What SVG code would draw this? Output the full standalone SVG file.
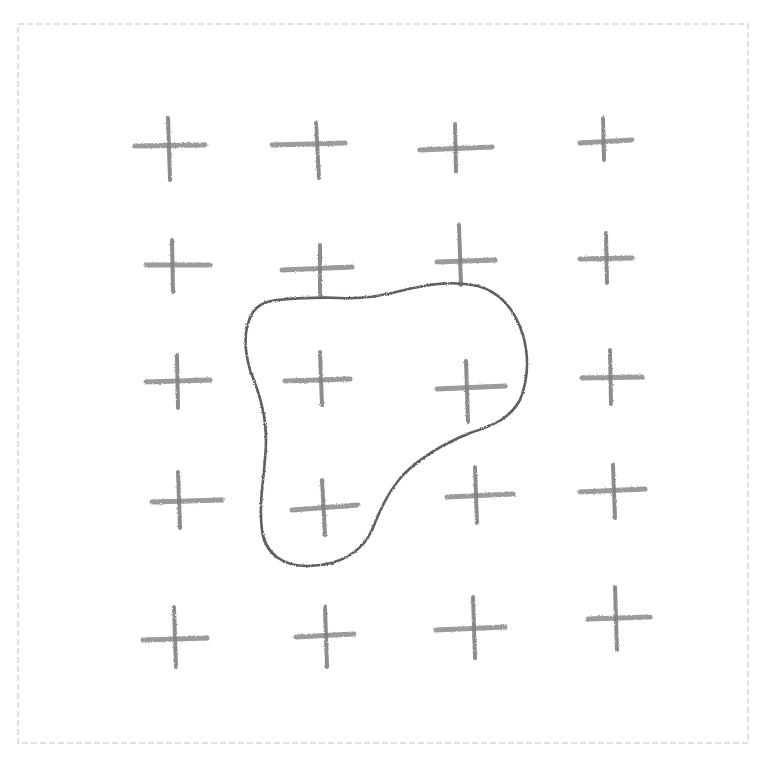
<svg xmlns="http://www.w3.org/2000/svg" width="764" height="763" viewBox="0 0 764 763">
<defs>
<filter id="pencil" x="-10%" y="-10%" width="120%" height="120%">
<feTurbulence type="fractalNoise" baseFrequency="0.9" numOctaves="2" seed="3" result="n"/>
<feDisplacementMap in="SourceGraphic" in2="n" scale="2.5" xChannelSelector="R" yChannelSelector="G"/>
</filter>
</defs>
<style>
.frame{fill:none;stroke:#d6d6d6;stroke-width:1.5;stroke-dasharray:6 3}
.h{stroke:#8f9190;stroke-width:5;stroke-linecap:round;opacity:0.9}
.v{stroke:#7f8180;stroke-width:4;stroke-linecap:round;opacity:0.9}
.blob{fill:none;stroke:#5e5e5e;stroke-width:2.6;stroke-linejoin:round}
</style>
<rect width="764" height="763" fill="#ffffff"/>
<rect class="frame" x="18" y="24" width="730" height="719"/>
<g id="crosses" filter="url(#pencil)">
<g id="c11"><line class="h" x1="135" y1="146" x2="205" y2="145"/><line class="v" x1="168" y1="118" x2="170" y2="180"/></g>
<g id="c12"><line class="h" x1="272" y1="145" x2="345" y2="143"/><line class="v" x1="316" y1="123" x2="319" y2="178"/></g>
<g id="c13"><line class="h" x1="420" y1="150" x2="492" y2="147"/><line class="v" x1="455" y1="124" x2="456" y2="172"/></g>
<g id="c14"><line class="h" x1="580" y1="143" x2="632" y2="140"/><line class="v" x1="603" y1="118" x2="604" y2="160"/></g>
<g id="c21"><line class="h" x1="146" y1="265" x2="210" y2="265"/><line class="v" x1="172" y1="240" x2="173" y2="292"/></g>
<g id="c22"><line class="h" x1="282" y1="270" x2="352" y2="267"/><line class="v" x1="320" y1="245" x2="320" y2="296"/></g>
<g id="c23"><line class="h" x1="437" y1="262" x2="495" y2="260"/><line class="v" x1="459" y1="225" x2="461" y2="285"/></g>
<g id="c24"><line class="h" x1="580" y1="259" x2="632" y2="258"/><line class="v" x1="606" y1="233" x2="607" y2="283"/></g>
<g id="c31"><line class="h" x1="146" y1="382" x2="210" y2="380"/><line class="v" x1="177" y1="355" x2="178" y2="408"/></g>
<g id="c32"><line class="h" x1="285" y1="381" x2="350" y2="379"/><line class="v" x1="320" y1="352" x2="322" y2="405"/></g>
<g id="c33"><line class="h" x1="437" y1="389" x2="505" y2="386"/><line class="v" x1="466" y1="361" x2="468" y2="422"/></g>
<g id="c34"><line class="h" x1="582" y1="378" x2="642" y2="377"/><line class="v" x1="610" y1="350" x2="611" y2="404"/></g>
<g id="c41"><line class="h" x1="152" y1="502" x2="222" y2="500"/><line class="v" x1="178" y1="472" x2="180" y2="528"/></g>
<g id="c42"><line class="h" x1="292" y1="510" x2="358" y2="505"/><line class="v" x1="322" y1="480" x2="325" y2="535"/></g>
<g id="c43"><line class="h" x1="447" y1="497" x2="513" y2="494"/><line class="v" x1="475" y1="467" x2="477" y2="523"/></g>
<g id="c44"><line class="h" x1="580" y1="492" x2="645" y2="489"/><line class="v" x1="613" y1="465" x2="615" y2="518"/></g>
<g id="c51"><line class="h" x1="143" y1="640" x2="207" y2="638"/><line class="v" x1="174" y1="607" x2="176" y2="667"/></g>
<g id="c52"><line class="h" x1="296" y1="637" x2="354" y2="634"/><line class="v" x1="325" y1="607" x2="327" y2="667"/></g>
<g id="c53"><line class="h" x1="436" y1="630" x2="505" y2="627"/><line class="v" x1="473" y1="597" x2="475" y2="658"/></g>
<g id="c54"><line class="h" x1="588" y1="619" x2="650" y2="617"/><line class="v" x1="615" y1="587" x2="617" y2="650"/></g>
</g>
<g id="region" filter="url(#pencil)">
<path class="blob" d="M 277 300 C 300 298 320 297 340 298 C 365 299 380 296 400 291 C 425 285 450 280 478 286 C 500 292 515 310 523 335 C 530 360 528 380 520 400 C 510 418 495 425 470 433 C 440 445 420 458 403 475 C 388 492 380 510 372 530 C 362 552 340 565 310 566 C 285 567 265 555 262 530 C 258 500 266 470 266 440 C 266 415 260 395 250 370 C 243 345 245 325 253 312 C 260 303 268 301 277 300 Z"/>
</g>
</svg>
